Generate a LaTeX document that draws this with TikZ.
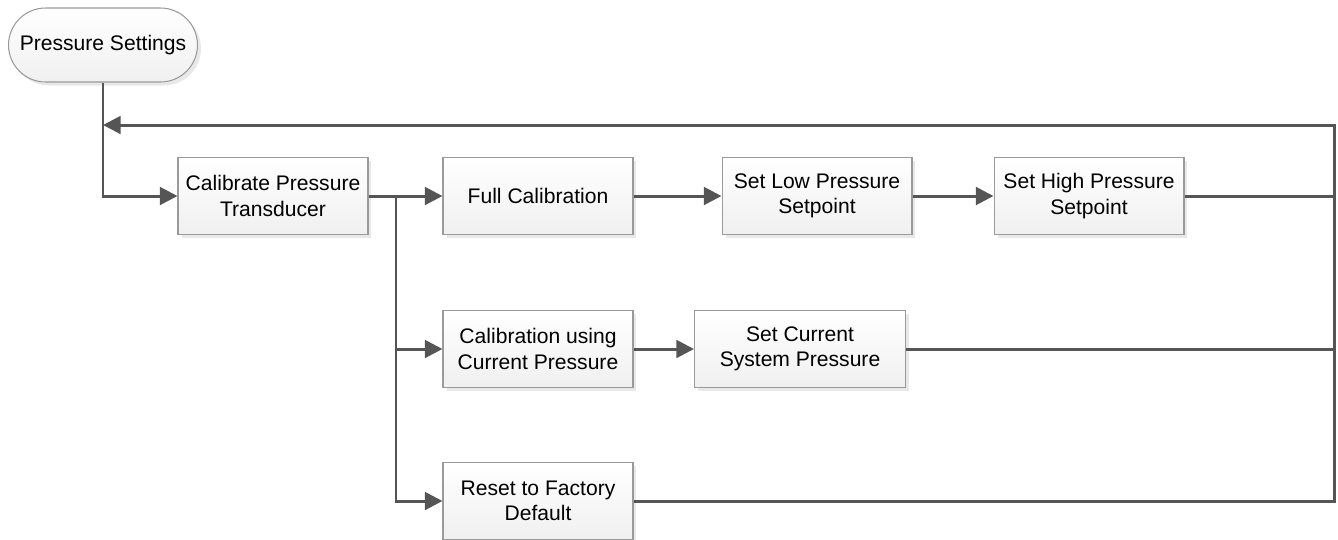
\documentclass[tikz,border=0pt]{standalone}
\usepackage{fontspec}
\setmainfont{Liberation Sans}
\usetikzlibrary{arrows.meta,shadows}
\definecolor{linegray}{HTML}{555555}
\definecolor{boxgray}{HTML}{9A9A9A}

\begin{document}
\begin{tikzpicture}[x=0.02cm, y=-0.02cm,
		stepbox/.style={draw=boxgray, line width=0.6pt, top color=white, bottom color=gray!12,
			minimum width=3.8cm, minimum height=1.54cm, align=center,
			font=\fontsize{12}{14.5}\selectfont,
			drop shadow={shadow xshift=0.07cm, shadow yshift=-0.07cm, fill=gray!30, opacity=0.6}},
		startbox/.style={stepbox, rounded corners=0.74cm, minimum width=3.78cm, minimum height=1.48cm},
		flow/.style={draw=linegray, line width=1.7pt},
		arrow/.style={flow, -{Triangle[length=10pt,width=10pt]}}]
		\useasboundingbox (0,0) rectangle (1338,539);

		\node[startbox] (settings) at (103,45) {Pressure Settings};

		\node[stepbox] (transducer) at (273,196) {Calibrate Pressure\\Transducer};
		\node[stepbox] (full) at (538,196) {Full Calibration};
		\node[stepbox] (low) at (817,196) {Set Low Pressure\\Setpoint};
		\node[stepbox] (high) at (1089,196) {Set High Pressure\\Setpoint};

		\node[stepbox] (current) at (538,349) {Calibration using\\Current Pressure};
		\node[stepbox, minimum width=4.22cm] (system) at (800,349) {Set Current\\System Pressure};

		\node[stepbox] (reset) at (538,501) {Reset to Factory\\Default};

		\coordinate (loop) at (103,125);   % return point
		\coordinate (back) at (1334,125);
		\coordinate (split) at (396,196);

		\draw[arrow] (settings.south) |- (transducer.west);
		\draw[flow] (transducer.east) -- (split);
		\draw[arrow] (split) -- (full);
		\draw[arrow] (split) |- (current.west);
		\draw[arrow] (split) |- (reset.west);

		\draw[arrow] (full) -- (low);
		\draw[arrow] (low) -- (high);
		\draw[arrow] (current) -- (system);

		\draw[flow] (high.east) -| (back);
		\draw[flow] (system.east) -| (back);
		\draw[arrow] (reset.east) -| (back) -- (loop);
	\end{tikzpicture}
\end{document}
